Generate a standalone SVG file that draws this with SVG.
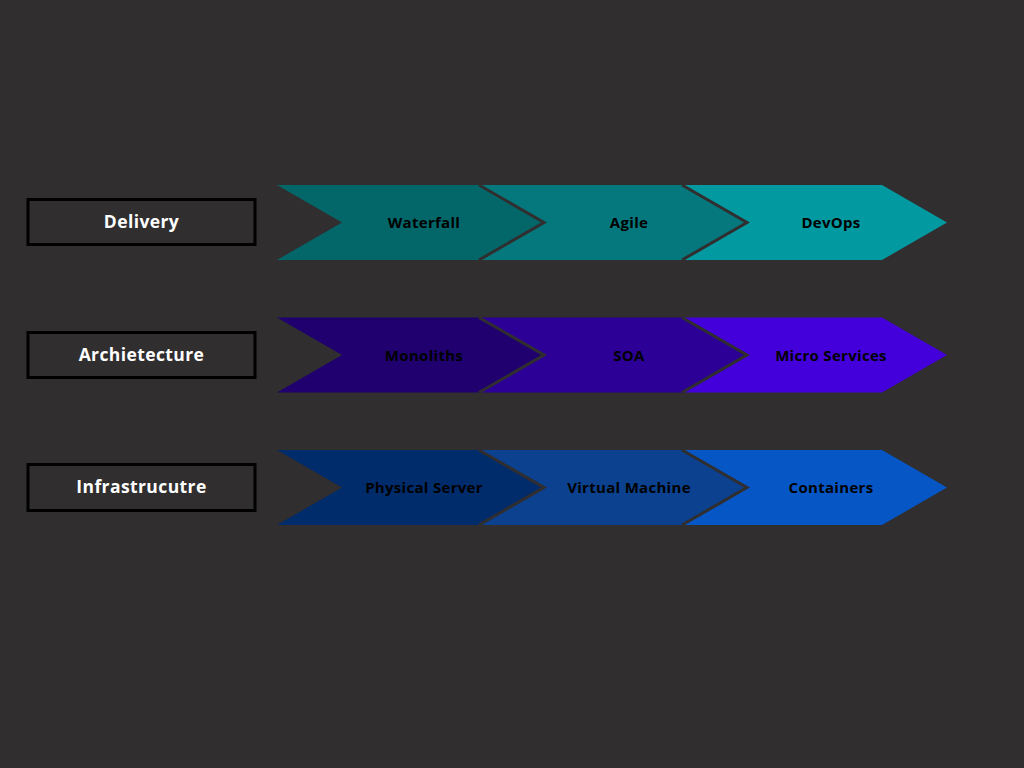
<svg xmlns="http://www.w3.org/2000/svg" width="1024" height="768" viewBox="0 0 1024 768">
<style>
.bg{fill:#302e2f}
.lbl rect{fill:#302e2f;stroke:#000;stroke-width:3}
.lbl text{font-family:"Open Sans",Inter,"Liberation Sans",sans-serif;font-weight:700;font-size:17.5px;letter-spacing:0.4px;fill:#fff;text-anchor:middle;dominant-baseline:central}
.chev text{font-family:"Open Sans",Inter,"Liberation Sans",sans-serif;font-weight:700;font-size:15px;letter-spacing:0.3px;fill:#000;text-anchor:middle;dominant-baseline:central}
.sep{fill:none;stroke:#302e2f;stroke-width:3;stroke-linejoin:miter}
</style>
<rect class="bg" x="0" y="0" width="1024" height="768"/>

<g id="label-delivery" class="lbl"><rect x="28" y="199.5" width="227" height="45"/><text x="141.5" y="221">Delivery</text></g>
<g id="label-architecture" class="lbl"><rect x="28" y="332.5" width="227" height="45"/><text x="141.5" y="354">Archietecture</text></g>
<g id="label-infrastructure" class="lbl"><rect x="28" y="464.5" width="227" height="46"/><text x="141.5" y="486">Infrastrucutre</text></g>

<!-- Row 1 -->
<g id="devops" class="chev"><polygon points="683,185 882,185 947,222.5 882,260 683,260 748,222.5" fill="#0399a0"/><text x="831" y="222">DevOps</text></g>
<g id="agile" class="chev"><polygon points="480,185 682,185 747,222.5 682,260 480,260 545,222.5" fill="#05787d"/><text x="629" y="222">Agile</text></g>
<g id="waterfall" class="chev"><polygon points="277,185 479,185 544,222.5 479,260 277,260 342,222.5" fill="#03676a"/><text x="424" y="222">Waterfall</text></g>

<!-- Row 2 -->
<g id="microservices" class="chev"><polygon points="683,317.5 882,317.5 947,355 882,392.5 683,392.5 748,355" fill="#4300da"/><text x="831" y="354.5">Micro Services</text></g>
<g id="soa" class="chev"><polygon points="480,317.5 682,317.5 747,355 682,392.5 480,392.5 545,355" fill="#2c0096"/><text x="629" y="354.5">SOA</text></g>
<g id="monoliths" class="chev"><polygon points="277,317.5 479,317.5 544,355 479,392.5 277,392.5 342,355" fill="#1f006e"/><text x="424" y="354.5">Monoliths</text></g>

<!-- Row 3 -->
<g id="containers" class="chev"><polygon points="683,450 882,450 947,487.5 882,525 683,525 748,487.5" fill="#0656c6"/><text x="831" y="487">Containers</text></g>
<g id="vm" class="chev"><polygon points="480,450 682,450 747,487.5 682,525 480,525 545,487.5" fill="#0b418e"/><text x="629" y="487">Virtual Machine</text></g>
<g id="physical" class="chev"><polygon points="277,450 479,450 544,487.5 479,525 277,525 342,487.5" fill="#002c6b"/><text x="424" y="487">Physical Server</text></g>

<g id="connectors">
<polyline class="sep" points="479,185 544,222.5 479,260"/>
<polyline class="sep" points="682,185 747,222.5 682,260"/>
<polyline class="sep" points="479,317.5 544,355 479,392.5"/>
<polyline class="sep" points="682,317.5 747,355 682,392.5"/>
<polyline class="sep" points="479,450 544,487.5 479,525"/>
<polyline class="sep" points="682,450 747,487.5 682,525"/>
</g>
</svg>
